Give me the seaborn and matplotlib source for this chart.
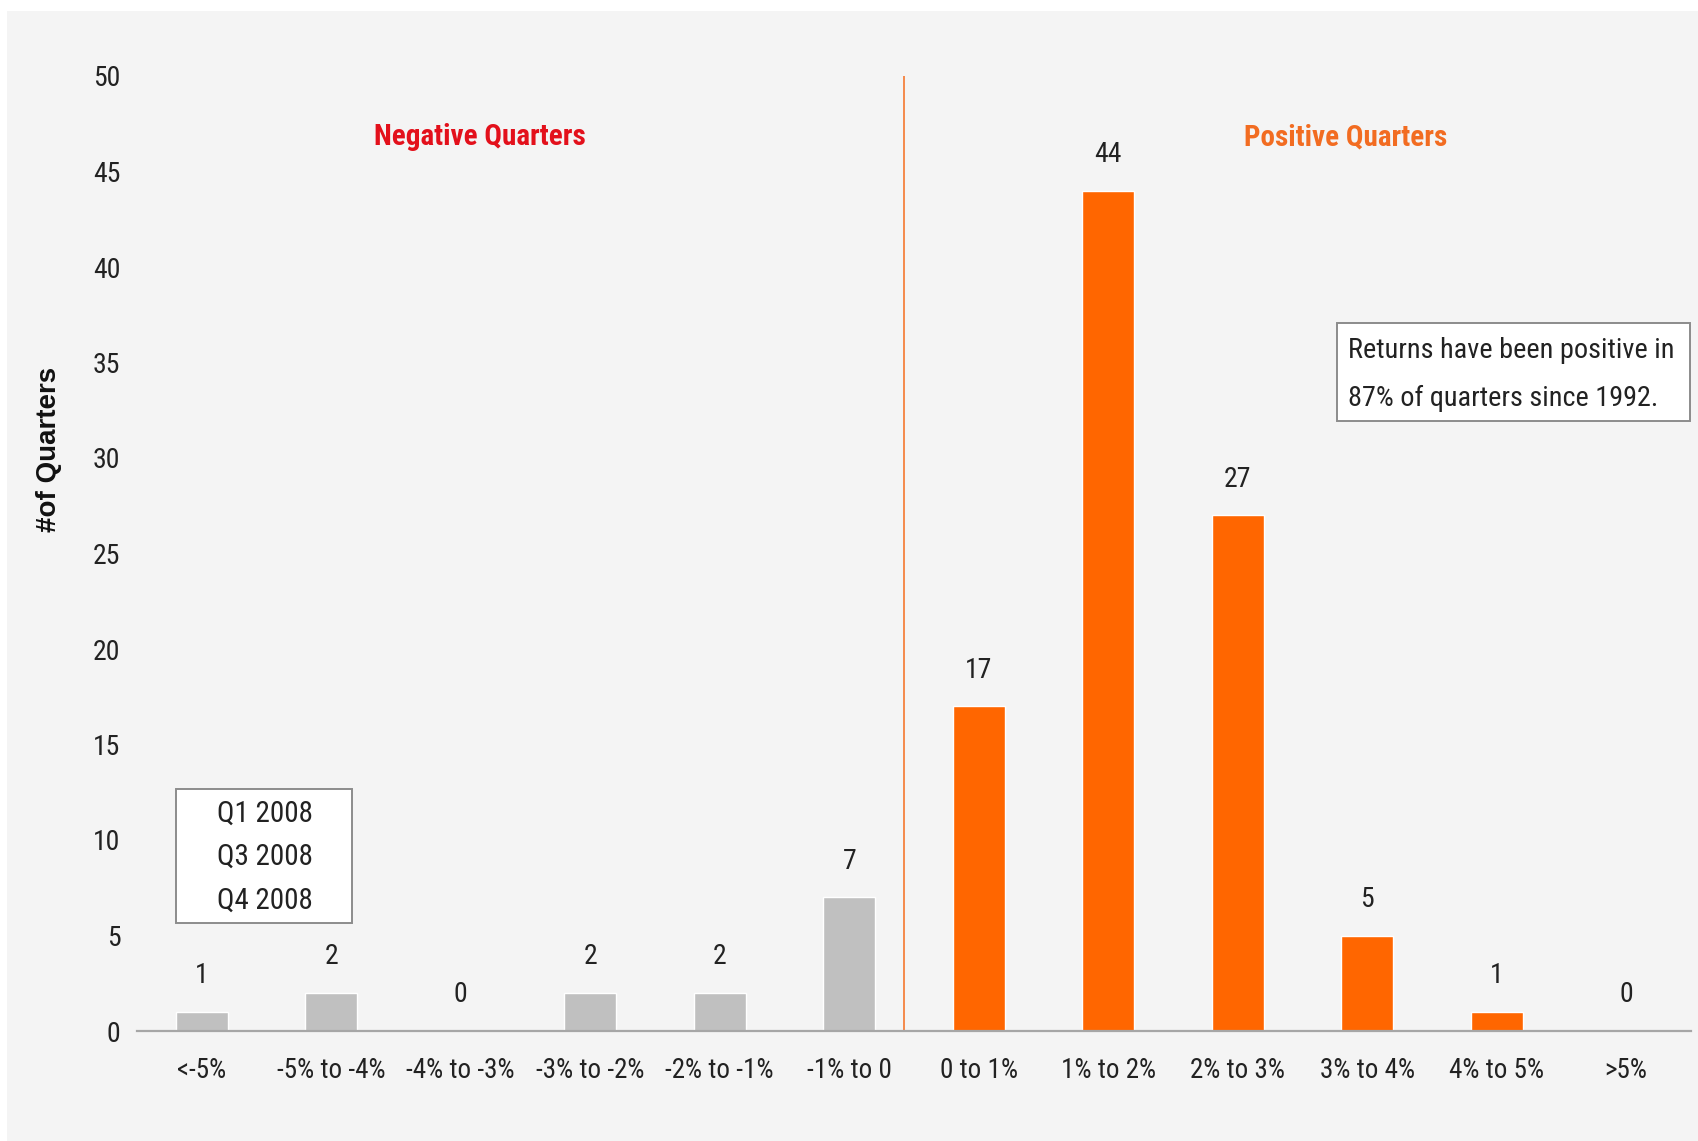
import matplotlib
matplotlib.use("Agg")
import matplotlib.pyplot as plt
from matplotlib import font_manager
from matplotlib.patches import Rectangle
import seaborn as sns
import pandas as pd

# Distribution of quarterly returns since 1992
categories = ["<-5%", "-5% to -4%", "-4% to -3%", "-3% to -2%", "-2% to -1%", "-1% to 0",
              "0 to 1%", "1% to 2%", "2% to 3%", "3% to 4%", "4% to 5%", ">5%"]
counts = [1, 2, 0, 2, 2, 7, 17, 44, 27, 5, 1, 0]
sign = ["Negative"] * 6 + ["Positive"] * 6
y_ticks = [0, 5, 10, 15, 20, 25, 30, 35, 40, 45, 50]
worst_quarters = ["Q1 2008", "Q3 2008", "Q4 2008"]
note_lines = ["Returns have been positive in", "87% of quarters since 1992."]

GREY_BAR = "#c0c0c0"
ORANGE = "#ff6600"
RED_TXT = "#e3101b"
ORANGE_TXT = "#f26c21"
BG = "#f4f4f4"

sns.set_style("white")

# pick a narrow sans face if one is installed
entries = font_manager.fontManager.ttflist
narrow_family, narrow_stretch = None, "normal"
prefs = ["Liberation Sans Narrow", "Roboto Condensed", "Roboto", "Open Sans Condensed",
         "Open Sans", "Noto Sans", "DejaVu Sans", "Liberation Sans"]
for fam in prefs:
    hits = [e for e in entries if e.name == fam and
            (("Narrow" in fam or "Condensed" in fam) or e.stretch in ("condensed", "semi-condensed"))]
    if hits:
        narrow_family = fam
        narrow_stretch = hits[0].stretch if hits[0].stretch in ("condensed", "semi-condensed") else "normal"
        break
if narrow_family is None:
    narrow_family, narrow_stretch, k = "Liberation Sans", "normal", 0.82
else:
    k = 1.0

plt.rcParams["font.family"] = [narrow_family, "DejaVu Sans"]
plt.rcParams["font.stretch"] = narrow_stretch

df = pd.DataFrame({"bucket": categories, "count": counts, "sign": sign})

fig = plt.figure(figsize=(16.98, 11.41), dpi=100, facecolor="white")
fig.patches.append(Rectangle((7 / 1698, 0), 1, 1 - 11 / 1141, transform=fig.transFigure,
                             facecolor=BG, edgecolor="none", zorder=-10))
ax = fig.add_axes([137 / 1698, 1 - 1031 / 1141, 1554 / 1698, 955 / 1141])
ax.set_facecolor("none")

sns.barplot(data=df, x="bucket", y="count", hue="sign", dodge=False, width=0.4,
            palette={"Negative": GREY_BAR, "Positive": ORANGE}, legend=False,
            saturation=1, ax=ax)

ax.set_xlim(-0.5, 11.5)
ax.set_ylim(0, 50)
ax.set_yticks(y_ticks)
ax.set_yticklabels([str(t) for t in y_ticks])
for s in ["top", "right", "left"]:
    ax.spines[s].set_visible(False)
ax.spines["bottom"].set_color("#a6a6a6")
ax.spines["bottom"].set_linewidth(1.6)
ax.tick_params(axis="y", length=0, pad=12, labelsize=20 * k, labelcolor="#222222")
ax.tick_params(axis="x", length=0, pad=19, labelsize=19.5 * k, labelcolor="#222222")
ax.set_xlabel("")
ax.set_ylabel("#of Quarters", fontsize=20, fontweight="bold", family="Liberation Sans",
              fontstretch="normal", color="#111111")
ax.yaxis.set_label_coords(-0.048, 0.609)

# value labels above every bar
bars = [p for c in ax.containers for p in c]
bars.sort(key=lambda p: p.get_x())
for p, v in zip(bars, counts):
    ax.annotate(str(v), (p.get_x() + p.get_width() / 2, p.get_height()),
                xytext=(0, 26), textcoords="offset points", ha="center", va="center",
                fontsize=20 * k, color="#222222")

# divider between negative and positive quarters
ax.plot([5.425, 5.425], [0, 50], color="#f58a4b", lw=1.4, zorder=1)

ax.text(2.15, 46.8, "Negative Quarters", color=RED_TXT, fontsize=21 * k,
        fontweight="bold", ha="center", va="center")
ax.text(8.83, 46.8, "Positive Quarters", color=ORANGE_TXT, fontsize=21 * k,
        fontweight="bold", ha="center", va="center")

# worst-quarter note box
ax.add_patch(Rectangle((-0.2, 5.67), 1.36, 7.0, facecolor="white", edgecolor="#8c8c8c",
                       lw=1.4, zorder=3, clip_on=False))
for yy, s in zip([11.40, 9.13, 6.81], worst_quarters):
    ax.text(0.485, yy, s, ha="center", va="center", fontsize=21 * k, color="#222222", zorder=4)

# summary note box
ax.add_patch(Rectangle((8.77, 31.92), 2.72, 5.16, facecolor="white", edgecolor="#8c8c8c",
                       lw=1.4, zorder=3, clip_on=False))
for yy, s in zip([35.65, 33.12], note_lines):
    ax.text(8.853, yy, s, ha="left", va="center", fontsize=20.3 * k, color="#222222", zorder=4)

fig.savefig("out.png", dpi=100, facecolor="white")
